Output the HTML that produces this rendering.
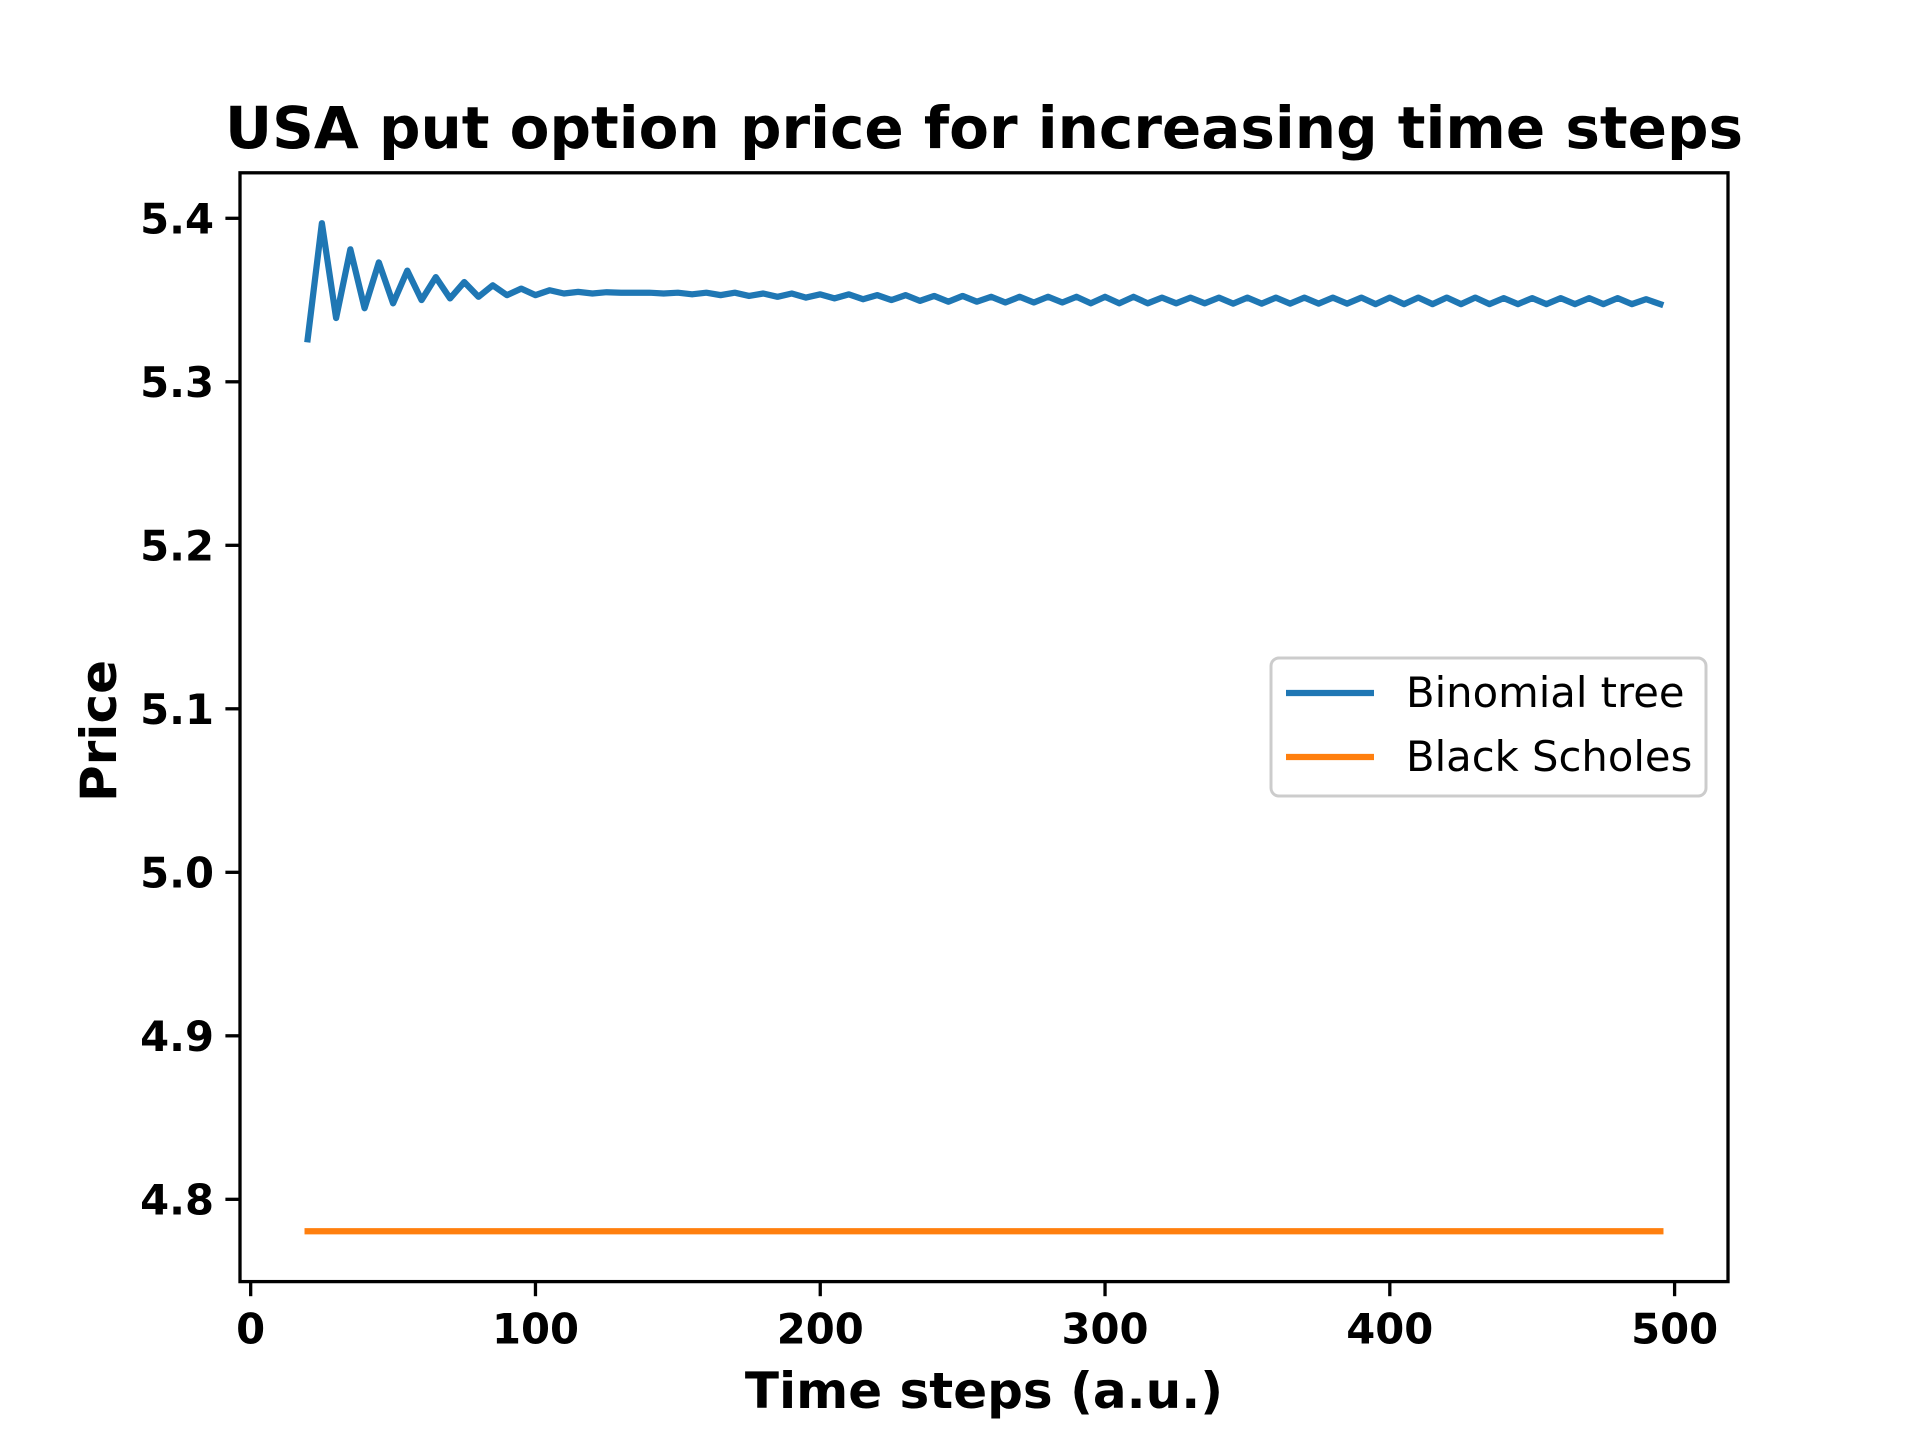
<!DOCTYPE html>
<html><head><meta charset="utf-8"><style>
html,body{margin:0;padding:0;background:#fff;}
svg{display:block;font-family:"DejaVu Sans","Liberation Sans",sans-serif;}
</style></head><body>
<svg id="chart" width="1920" height="1440" viewBox="0 0 1920 1440" xmlns="http://www.w3.org/2000/svg">
<rect width="1920" height="1440" fill="#fff"/>
<text x="984" y="148" font-size="58" font-weight="bold" text-anchor="middle">USA put option price for increasing time steps</text>
<g id="plot"></g>
<rect x="240" y="172.8" width="1488" height="1108.8" fill="none" stroke="#000" stroke-width="3.3"/>
<text x="984" y="1408" font-size="50" font-weight="bold" text-anchor="middle">Time steps (a.u.)</text>
<text x="0" y="0" font-size="50" font-weight="bold" text-anchor="middle" transform="translate(116,731) rotate(-90)">Price</text>
<g>
<rect x="1271" y="658" width="435" height="138" rx="8" fill="#fff" fill-opacity="0.8" stroke="#ccc" stroke-width="3"/>
<line x1="1286" y1="693" x2="1374" y2="693" stroke="#1f77b4" stroke-width="6.25"/>
<text x="1406" y="707" font-size="41.7">Binomial tree</text>
<line x1="1286" y1="757" x2="1374" y2="757" stroke="#ff7f0e" stroke-width="6.25"/>
<text x="1406" y="771" font-size="41.7">Black Scholes</text>
</g>
</svg>
<script>
const steps = [];
for (let s = 20; s <= 495; s += 5) steps.push(s);
const binomial = [5.326,5.397,5.339,5.381,5.345,5.373,5.348,5.368,5.350,5.364,
5.351,5.361,5.352,5.359,5.353,5.357,5.353,5.356,5.354,5.355,
5.354,5.3548,5.3545,5.3545,5.3545,5.354,5.3545,5.3535,5.3545,5.353,
5.3545,5.3525,5.354,5.352,5.354,5.3515,5.3535,5.351,5.3535,5.3505,
5.353,5.350,5.353,5.3495,5.3525,5.349,5.3525,5.349,5.352,5.3485,
5.352,5.3485,5.352,5.3485,5.352,5.348,5.352,5.348,5.352,5.348,
5.3515,5.348,5.3515,5.348,5.3515,5.3478,5.3515,5.3478,5.3515,5.3478,
5.3515,5.3478,5.3515,5.3478,5.3515,5.3475,5.3515,5.3475,5.3515,5.3475,
5.3515,5.3475,5.3515,5.3475,5.3512,5.3475,5.3512,5.3475,5.3512,5.3475,
5.3512,5.3475,5.3512,5.3475,5.3505,5.3475];
const blackScholes = steps.map(() => 4.7805);
const xTicks = [0,100,200,300,400,500];
const yTicks = [4.8,4.9,5.0,5.1,5.2,5.3,5.4];
const yTickLabels = ["4.8","4.9","5.0","5.1","5.2","5.3","5.4"];

const L=240,R=1728,T=172.8,B=1281.6;
const allY = binomial.concat(blackScholes);
const xmin0=Math.min(...steps), xmax0=Math.max(...steps);
const ymin0=Math.min(...allY), ymax0=Math.max(...allY);
const xm=(xmax0-xmin0)*0.05, ym=(ymax0-ymin0)*0.05;
const xmin=xmin0-xm, xmax=xmax0+xm, ymin=ymin0-ym, ymax=ymax0+ym;
const sx=v=>L+(v-xmin)/(xmax-xmin)*(R-L);
const sy=v=>B-(v-ymin)/(ymax-ymin)*(B-T);
const NS="http://www.w3.org/2000/svg";
const g=document.getElementById('plot');
function mk(tag,attrs){const e=document.createElementNS(NS,tag);for(const k in attrs)e.setAttribute(k,attrs[k]);return e;}

xTicks.forEach((t,i)=>{
  const x=sx(t);
  const tk=mk('line',{x1:x,y1:B,x2:x,y2:B+14.6,stroke:'#000','stroke-width':3.3});
  
  
  g.appendChild(tk);
  const lb=mk('text',{x:x,y:B+62,'font-size':41.7,'font-weight':'bold','text-anchor':'middle'});
  lb.textContent=String(t);
  
  
  g.appendChild(lb);
});
yTicks.forEach((t,i)=>{
  const y=sy(t);
  const tk=mk('line',{x1:L-14.6,y1:y,x2:L,y2:y,stroke:'#000','stroke-width':3.3});
  
  
  g.appendChild(tk);
  const lb=mk('text',{x:L-26,y:y+15,'font-size':41.7,'font-weight':'bold','text-anchor':'end'});
  lb.textContent=yTickLabels[i];
  
  
  g.appendChild(lb);
});
function line(vals,color,name){
  const pts=steps.map((s,i)=>sx(s).toFixed(2)+','+sy(vals[i]).toFixed(2)).join(' ');
  const p=mk('polyline',{points:pts,fill:'none',stroke:color,'stroke-width':6.25,'stroke-linejoin':'round','stroke-linecap':'square'});
  
  
  g.appendChild(p);
}
line(binomial,'#1f77b4','binomial-tree-line');
line(blackScholes,'#ff7f0e','black-scholes-line');
</script>
</body></html>
